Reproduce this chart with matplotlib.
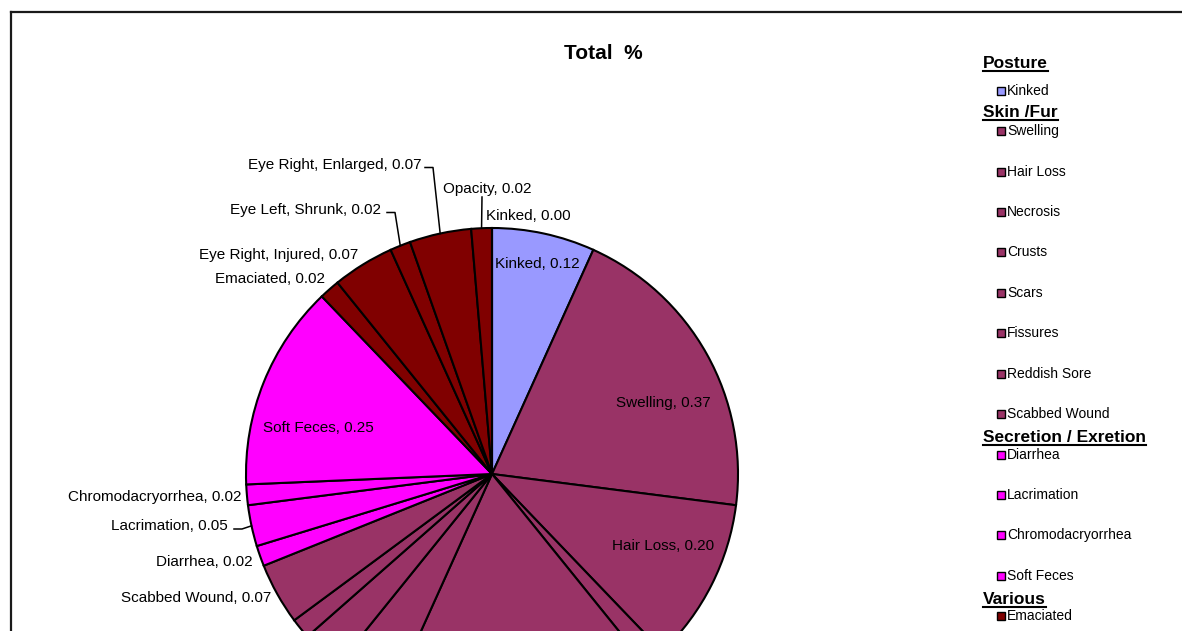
import numpy as np
import matplotlib
matplotlib.use('Agg')
from matplotlib import pyplot as plt
from matplotlib import transforms as mtransforms
from matplotlib.patches import Rectangle
from matplotlib.lines import Line2D

plt.rcParams['font.family'] = ['Liberation Sans', 'DejaVu Sans']

W, H = 1182, 631

# slices, clockwise from 12 o'clock
names = ['Kinked', 'Swelling', 'Hair Loss', 'Necrosis', 'Crusts', 'Scars', 'Fissures',
         'Reddish Sore', 'Scabbed Wound', 'Diarrhea', 'Lacrimation', 'Chromodacryorrhea',
         'Soft Feces', 'Emaciated', 'Eye Right, Injured', 'Eye Left, Shrunk',
         'Eye Right, Enlarged', 'Opacity', 'Kinked']
values = [0.1235, 0.3705, 0.1976, 0.0247, 0.3211, 0.0741, 0.0494,
          0.0247, 0.0741, 0.0247, 0.0494, 0.0247,
          0.247, 0.0247, 0.0741, 0.0247,
          0.0741, 0.0247, 0.0]
group_of = [0, 1, 1, 1, 1, 1, 1, 1, 1, 2, 2, 2, 2, 3, 3, 3, 3, 3, 3]

group_names = ['Posture', 'Skin /Fur', 'Secretion / Exretion', 'Various']
group_colors = ['#9999FF', '#993366', '#FF00FF', '#800000']

# legend entries that fit on the page
legend_names = names[:14]

# label layout in image pixels: slice index -> (x, baseline y, ha, leader start)
label_pos = {
    0: (495, 268, 'left', None),
    1: (616, 407, 'left', None),
    2: (612, 550, 'left', None),
    8: (271, 602, 'right', None),
    9: (253, 566, 'right', None),
    10: (228, 530.5, 'right', (234, 529)),
    11: (242, 501.5, 'right', None),
    12: (263, 432, 'left', None),
    13: (325, 283, 'right', None),
    14: (358, 259, 'right', None),
    15: (381, 214, 'right', (387, 212.5)),
    16: (422, 169, 'right', (425, 167.5)),
    17: (443, 193, 'left', (482, 197)),
    18: (486, 220, 'left', None),
}

fig = plt.figure(figsize=(W / 100, H / 100), dpi=100)
pix = mtransforms.Affine2D().scale(1.0 / W, -1.0 / H).translate(0, 1) + fig.transFigure

# chart frame (cut off at right and bottom)
fig.add_artist(Line2D([11, W + 5], [12, 12], transform=pix, color='#1a1a1a', lw=1.6))
fig.add_artist(Line2D([11, 11], [12, H + 5], transform=pix, color='#1a1a1a', lw=1.6))

fig.text(603, 59, 'Total  %', transform=pix, ha='center', va='baseline',
         fontsize=15, fontweight='bold')

# pie
R = 246
cx, cy = 492, 474
pad = 1.06
ax = fig.add_axes([(cx - R * pad) / W, (H - cy - R * pad) / H,
                   2 * R * pad / W, 2 * R * pad / H])
wedges, _ = ax.pie(values, colors=[group_colors[g] for g in group_of],
                   startangle=90, counterclock=False, radius=1,
                   wedgeprops=dict(edgecolor='black', linewidth=1.5))
ax.set_xlim(-pad, pad)
ax.set_ylim(-pad, pad)
ax.axis('off')

for i, (x, y, ha, lead) in label_pos.items():
    fig.text(x, y, '%s, %.2f' % (names[i], values[i]), transform=pix,
             ha=ha, va='baseline', fontsize=11)
    if lead is not None:
        w = wedges[i]
        ang = np.deg2rad((w.theta1 + w.theta2) / 2)
        ex, ey = ax.transData.transform((np.cos(ang), np.sin(ang)))
        ey = H - ey
        if abs(lead[0] - ex) < 3:
            xs, ys = [lead[0], ex], [lead[1], ey]
        else:
            xs, ys = [lead[0], lead[0] + 8, ex], [lead[1], lead[1], ey]
        fig.add_artist(Line2D(xs, ys, transform=pix, color='black', lw=1.1))

# legend, grouped
header_y = {0: 68, 1: 117, 2: 442, 3: 604}
row_y = [91, 131, 172, 212, 252, 293, 333, 374, 414, 455, 495, 535, 576, 616]
headers = []
for g, name in enumerate(group_names):
    t = fig.text(983, header_y[g], name, transform=pix, ha='left', va='baseline',
                 fontsize=12.5, fontweight='bold')
    headers.append((t, header_y[g]))

for i, name in enumerate(legend_names):
    y = row_y[i]
    fig.add_artist(Rectangle((996.5, y - 4), 8, 8, transform=pix,
                             facecolor=group_colors[group_of[i]], edgecolor='black', lw=1.0))
    fig.text(1007, y, name, transform=pix, ha='left', va='center', fontsize=10)

fig.canvas.draw()
for t, y in headers:
    bb = t.get_window_extent()
    fig.add_artist(Line2D([bb.x0, bb.x1], [y + 3, y + 3], transform=pix,
                          color='black', lw=1.5))

fig.savefig('out.png', dpi=100)
